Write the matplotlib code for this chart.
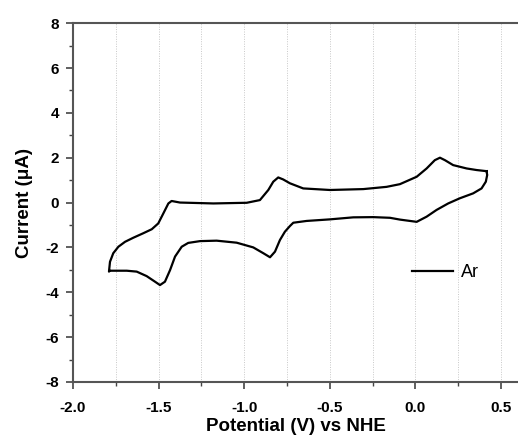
import matplotlib
matplotlib.use("Agg")
import matplotlib.pyplot as plt
from matplotlib.ticker import MultipleLocator

plt.rcParams['font.family'] = ['Liberation Sans', 'DejaVu Sans']

# cathodic sweep (0.42 V -> -1.79 V), lower branch
fwd_v = [0.416, 0.42, 0.412, 0.387, 0.338, 0.26, 0.192, 0.124, 0.066, 0.008,
         -0.051, -0.09, -0.148, -0.246, -0.363, -0.499, -0.635, -0.713, -0.733,
         -0.762, -0.791, -0.82, -0.849, -0.888, -0.947, -1.044, -1.161, -1.258,
         -1.327, -1.365, -1.404, -1.433, -1.463, -1.492, -1.521, -1.57, -1.628,
         -1.686, -1.784, -1.79]
fwd_i = [1.40, 1.23, 0.93, 0.63, 0.41, 0.19, -0.04, -0.33, -0.63, -0.86,
         -0.80, -0.76, -0.68, -0.65, -0.66, -0.75, -0.82, -0.90, -1.05,
         -1.30, -1.67, -2.19, -2.44, -2.26, -2.00, -1.79, -1.70, -1.72,
         -1.80, -1.97, -2.41, -3.01, -3.53, -3.68, -3.53, -3.28, -3.08,
         -3.04, -3.04, -3.08]

# anodic sweep (-1.79 V -> 0.42 V), upper branch
rev_v = [-1.79, -1.784, -1.765, -1.735, -1.696, -1.648, -1.59, -1.54, -1.502,
         -1.472, -1.443, -1.424, -1.375, -1.18, -0.985, -0.908, -0.859, -0.83,
         -0.801, -0.772, -0.733, -0.655, -0.499, -0.304, -0.168, -0.09, 0.008,
         0.066, 0.114, 0.144, 0.173, 0.221, 0.3, 0.358, 0.416]
rev_i = [-3.08, -2.64, -2.26, -1.97, -1.75, -1.57, -1.37, -1.19, -0.93,
         -0.48, -0.04, 0.07, 0.00, -0.04, -0.01, 0.11, 0.56, 0.93,
         1.12, 1.03, 0.86, 0.63, 0.56, 0.60, 0.70, 0.82, 1.15,
         1.52, 1.89, 2.00, 1.89, 1.67, 1.52, 1.45, 1.40]

fig = plt.figure(figsize=(5.18, 4.37), dpi=100)
ax = fig.add_axes([0.141, 0.126, 0.859, 0.821])

ax.plot(fwd_v + rev_v, fwd_i + rev_i, color='black', lw=1.6, label='Ar',
        solid_joinstyle='round')

ax.set_xlim(-2.0, 0.6)
ax.set_ylim(-8, 8)
ax.xaxis.set_minor_locator(MultipleLocator(0.25))
ax.yaxis.set_minor_locator(MultipleLocator(1))
ax.set_xticks([-2.0, -1.5, -1.0, -0.5, 0.0, 0.5])
ax.set_xticklabels(['-2.0', '-1.5', '-1.0', '-0.5', '0.0', '0.5'])
ax.set_yticks(range(-8, 9, 2))
ax.set_yticklabels([str(v) for v in range(-8, 9, 2)])

ax.grid(True, which='both', axis='x', color='#c8c8c8', ls=(0, (1, 1.5)), lw=0.7)
ax.tick_params(which='both', direction='out', top=False, right=False,
               color='#444444')
ax.tick_params(which='major', length=5, width=1.2, labelsize=11, pad=5)
ax.tick_params(axis='x', which='major', pad=9)
ax.tick_params(which='minor', length=3, width=1)
for lab in ax.get_xticklabels() + ax.get_yticklabels():
    lab.set_fontweight('bold')

ax.spines['right'].set_visible(False)
for s in ['left', 'bottom', 'top']:
    ax.spines[s].set_color('#555555')
    ax.spines[s].set_linewidth(1.5)

ax.set_xlabel('Potential (V) vs NHE', fontsize=13.5, fontweight='bold', labelpad=2)
ax.set_ylabel('Current (μA)', fontsize=13.5, fontweight='bold', labelpad=9)

ax.legend(loc='center left', bbox_to_anchor=(0.725, 0.305), frameon=False,
          fontsize=13, handlelength=2.3, handletextpad=0.4)

fig.savefig('out.png', dpi=100)
